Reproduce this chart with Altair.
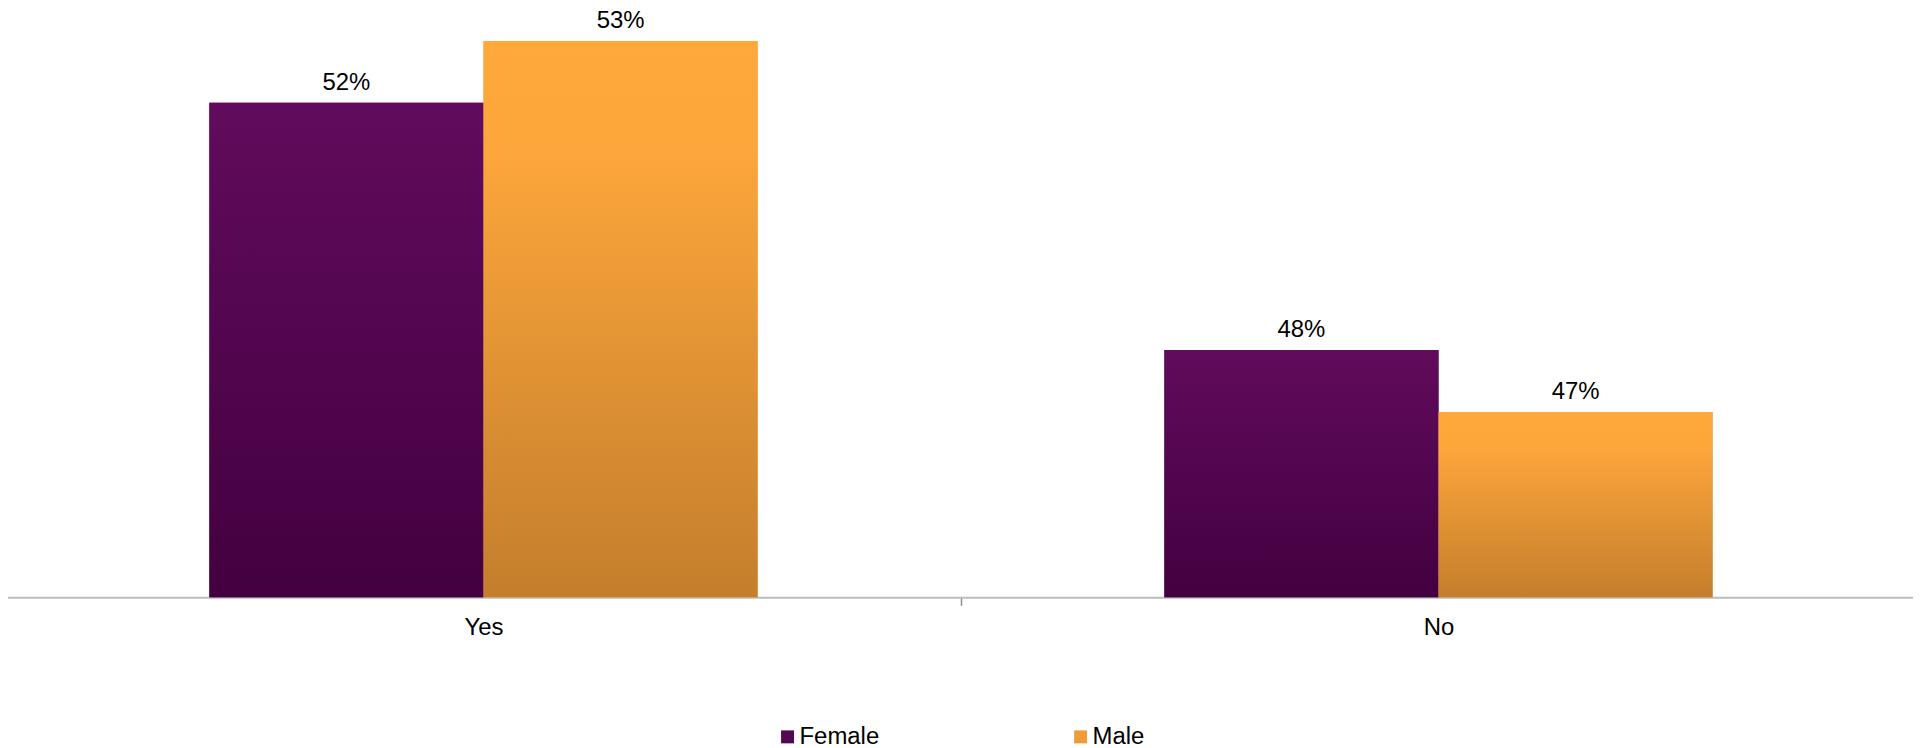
import altair as alt
import pandas as pd

answers = ["Yes", "No"]
genders = ["Female", "Male"]
female_pct = [52, 48]
male_pct = [53, 47]

rows = []
for i, a in enumerate(answers):
    rows.append({"answer": a, "gender": "Female", "pct": female_pct[i], "label": f"{female_pct[i]}%"})
    rows.append({"answer": a, "gender": "Male", "pct": male_pct[i], "label": f"{male_pct[i]}%"})
df = pd.DataFrame(rows)

FONT = "Liberation Sans"
FS = 24
purple_grad = alt.Gradient(
    gradient="linear", x1=0, x2=0, y1=0, y2=1,
    stops=[alt.GradientStop(offset=0, color="#610b5c"),
           alt.GradientStop(offset=1, color="#430040")],
)
orange_grad = alt.Gradient(
    gradient="linear", x1=0, x2=0, y1=0, y2=1,
    stops=[alt.GradientStop(offset=0, color="#ffa93c"),
           alt.GradientStop(offset=0.2, color="#fca63b"),
           alt.GradientStop(offset=1, color="#c47e2c")],
)

x_enc = alt.X("answer:N", sort=answers, title=None,
              scale=alt.Scale(paddingInner=0, paddingOuter=0),
              axis=alt.Axis(labelAngle=0, labelFontSize=FS, labelFont=FONT, labelColor="#000000",
                            domainColor="#bcbcbc", domainWidth=2, tickColor="#8c8c8c",
                            tickWidth=1.5, tickSize=8, tickBand="extent", labelPadding=10))
xoff = alt.XOffset("gender:N", sort=genders,
                   scale=alt.Scale(paddingInner=0, paddingOuter=0.742))
y_enc = alt.Y("pct:Q", axis=None, scale=alt.Scale(domain=[44, 53.5], zero=False, nice=False, clamp=True))

base = alt.Chart(df)

legend_bars = base.mark_bar().encode(
    x=x_enc, xOffset=xoff, y=y_enc,
    color=alt.Color("gender:N", sort=genders,
                    scale=alt.Scale(domain=genders, range=["#560752", "#ee9c38"]),
                    legend=alt.Legend(title=None, orient="none", direction="horizontal",
                                      legendX=772, legendY=717, symbolType="square",
                                      symbolSize=169, symbolStrokeWidth=0, labelFontSize=FS,
                                      labelFont=FONT, labelColor="#000000", labelOffset=0,
                                      columnPadding=189, padding=0)),
)

female_bars = base.transform_filter(alt.datum.gender == "Female").mark_bar(
    color=purple_grad).encode(x=x_enc, xOffset=xoff, y=y_enc)
male_bars = base.transform_filter(alt.datum.gender == "Male").mark_bar(
    color=orange_grad).encode(x=x_enc, xOffset=xoff, y=y_enc)

labels = base.mark_text(fontSize=FS, font=FONT, color="#000000", baseline="alphabetic", dy=-13).encode(
    x=x_enc, xOffset=xoff, y=y_enc, text="label:N")

chart = alt.layer(legend_bars, female_bars, male_bars, labels).properties(
    width=1916, height=589,
    autosize=alt.AutoSizeParams(type="none"),
    padding={"left": -2, "top": 1, "right": -3, "bottom": 150},
).configure(background="white").configure_view(stroke=None)

chart.save("out.html", embed_options={"renderer": "svg", "actions": False})
